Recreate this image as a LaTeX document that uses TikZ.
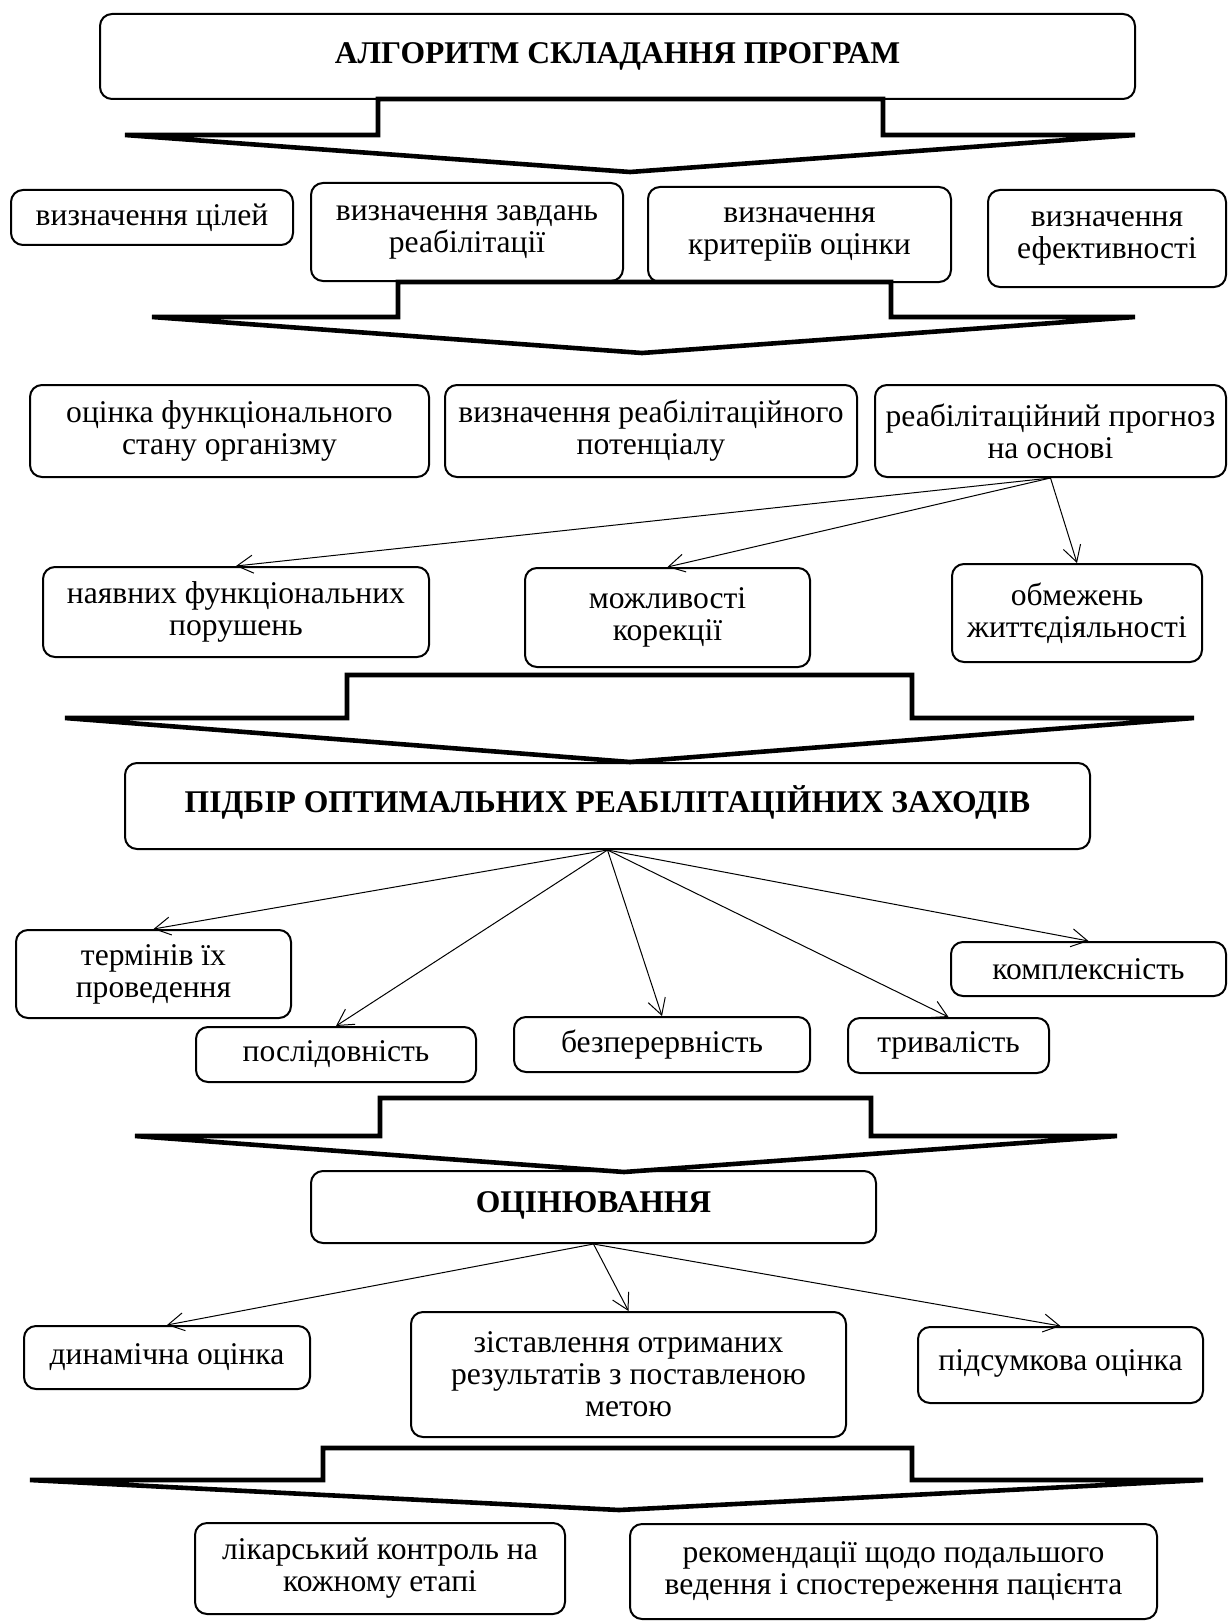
\documentclass[tikz,border=0pt]{standalone}
\usepackage{fontspec}
\setmainfont{Liberation Serif}
\usetikzlibrary{arrows.meta}

\begin{document}
\begin{tikzpicture}[x=0.5pt, y=-0.5pt,
  box/.style={draw, rounded corners=6pt, line width=1pt, align=center, inner sep=2pt,
    font=\fontsize{15.8pt}{16pt}\selectfont},
  headbox/.style={box, font=\fontsize{15.8pt}{16pt}\selectfont\bfseries},
  fatarrow/.style={line width=2.3pt},
  pointer/.style={-{Straight Barb[length=8pt,width=9pt]}, line width=0.5pt}]
  \useasboundingbox (0,0) rectangle (1228,1621);

  % stage 1
  \node[headbox, minimum width=517.5pt, minimum height=42.5pt] (titleNode) at (617.5,56.5) {\raisebox{3.25pt}{АЛГОРИТМ СКЛАДАННЯ ПРОГРАМ}};
  \draw[fatarrow] (378,99) -- (378,135) -- (125,135) -- (630,172) -- (1135,135) -- (883,135) -- (883,99) -- cycle;

  \node[box, minimum width=141pt, minimum height=27.5pt] (goalsNode) at (152,217.5) {визначення цілей};
  \node[box, minimum width=156pt, minimum height=49pt] (tasksNode) at (467,232) {визначення завдань\\реабілітації};
  \node[box, minimum width=151.5pt, minimum height=47.5pt] (criteriaNode) at (799.5,234.5) {визначення\\критеріїв оцінки};
  \node[box, minimum width=119pt, minimum height=48.5pt] (effectNode) at (1107,238.5) {визначення\\ефективності};
  \draw[fatarrow] (398,282) -- (398,317) -- (152,317) -- (642,353) -- (1135,317) -- (891,317) -- (891,282) -- cycle;

  % stage 2
  \node[box, minimum width=199.5pt, minimum height=46pt] (stateNode) at (229.5,431) {оцінка функціонального\\стану організму};
  \node[box, minimum width=206pt, minimum height=46pt] (potentialNode) at (651,431) {визначення реабілітаційного\\потенціалу};
  \node[box, minimum width=175.5pt, minimum height=46pt] (forecastNode) at (1050.5,431) {реабілітаційний прогноз\\на основі};

  \node[box, minimum width=193pt, minimum height=45pt] (disordersNode) at (236,612) {наявних функціональних\\порушень};
  \node[box, minimum width=142.5pt, minimum height=49.5pt] (correctionNode) at (667.5,617.5) {можливості\\корекції};
  \node[box, minimum width=125pt, minimum height=49pt] (limitsNode) at (1077,613) {обмежень\\життєдіяльності};

  \draw[pointer] (forecastNode.south) -- (disordersNode.north);
  \draw[pointer] (forecastNode.south) -- (correctionNode.north);
  \draw[pointer] (forecastNode.south) -- (limitsNode.north);

  \draw[fatarrow] (347,675) -- (347,718) -- (65,718) -- (630,762) -- (1194,718) -- (912,718) -- (912,675) -- cycle;

  % stage 3
  \node[headbox, minimum width=482.5pt, minimum height=43pt] (measuresNode) at (607.5,806) {\raisebox{6.5pt}{ПІДБІР ОПТИМАЛЬНИХ РЕАБІЛІТАЦІЙНИХ ЗАХОДІВ}};

  \node[box, minimum width=137.5pt, minimum height=44pt] (termsNode) at (153.5,974) {термінів їх\\проведення};
  \node[box, minimum width=140pt, minimum height=27.5pt] (orderNode) at (336,1054.5) {послідовність};
  \node[box, minimum width=148pt, minimum height=27.5pt] (continuityNode) at (662,1044.5) {безперервність};
  \node[box, minimum width=100.5pt, minimum height=27.5pt] (durationNode) at (948.5,1045.5) {тривалість};
  \node[box, minimum width=137.5pt, minimum height=27pt] (complexNode) at (1088.5,969) {комплексність};

  \draw[pointer] (measuresNode.south) -- (termsNode.north);
  \draw[pointer] (measuresNode.south) -- (orderNode.north);
  \draw[pointer] (measuresNode.south) -- (continuityNode.north);
  \draw[pointer] (measuresNode.south) -- (durationNode.north);
  \draw[pointer] (measuresNode.south) -- (complexNode.north);

  \draw[fatarrow] (380,1098) -- (380,1136) -- (135,1136) -- (624,1172) -- (1117,1136) -- (871,1136) -- (871,1098) -- cycle;

  % stage 4
  \node[headbox, minimum width=282.5pt, minimum height=36pt] (assessNode) at (593.5,1207) {\raisebox{4.5pt}{ОЦІНЮВАННЯ}};

  \node[box, minimum width=143pt, minimum height=31.5pt] (dynamicNode) at (167,1357.5) {динамічна оцінка};
  \node[box, minimum width=217.5pt, minimum height=62.5pt] (compareNode) at (628.5,1374.5) {зіставлення отриманих\\результатів з поставленою\\метою};
  \node[box, minimum width=142.5pt, minimum height=38pt] (finalNode) at (1060.5,1365) {\raisebox{5pt}{підсумкова оцінка}};

  \draw[pointer] (assessNode.south) -- (dynamicNode.north);
  \draw[pointer] (assessNode.south) -- (compareNode.north);
  \draw[pointer] (assessNode.south) -- (finalNode.north);

  \draw[fatarrow] (323,1448) -- (323,1480) -- (30,1480) -- (619,1510) -- (1203,1480) -- (912,1480) -- (912,1448) -- cycle;

  % stage 5
  \node[box, minimum width=185pt, minimum height=45.5pt] (controlNode) at (380,1568.5) {лікарський контроль на\\кожному етапі};
  \node[box, minimum width=263.5pt, minimum height=47.5pt] (adviceNode) at (893.5,1571.5) {рекомендації щодо подальшого\\ведення і спостереження пацієнта};
\end{tikzpicture}
\end{document}
